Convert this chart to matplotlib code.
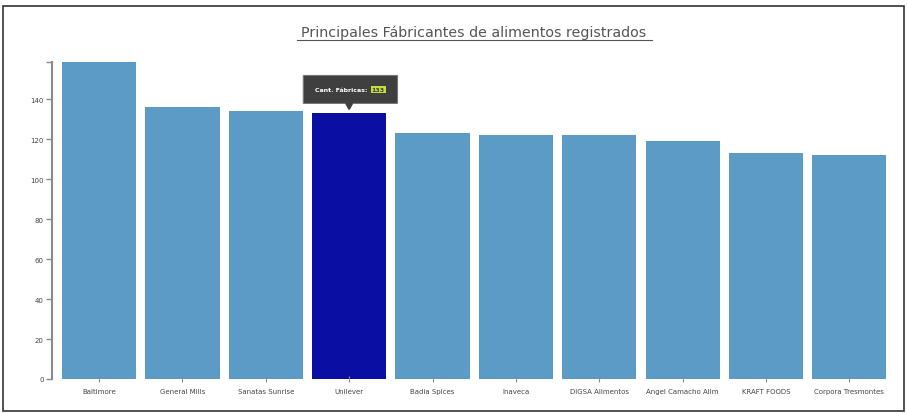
import matplotlib
matplotlib.use("Agg")
import matplotlib.pyplot as plt
from matplotlib.patches import Rectangle, FancyBboxPatch, Polygon

# ── Data ──────────────────────────────────────────────────────────
fabricantes = ['Baltimore', 'General Mills', 'Sanatas Sunrise', 'Unilever',
               'Badia Spices', 'Inaveca', 'DIGSA Alimentos',
               'Angel Camacho Alim', 'KRAFT FOODS', 'Corpora Tresmontes']
cant_fabricas = [159, 136, 134, 133, 123, 122, 122, 119, 113, 112]
highlight = 3          # bar under the mouse tooltip
y_ticks = [0, 20, 40, 60, 80, 100, 120, 140]

BAR_COLOR = '#5b9bc6'
HI_COLOR = '#0b0ea3'
AXIS_GRAY = '#8a8a8a'

fig = plt.figure(figsize=(9.07, 4.14), dpi=100)
fig.patch.set_facecolor('white')

# outer frame of the widget
fig.patches.append(Rectangle((0.003, 0.006), 0.994, 0.978, transform=fig.transFigure,
                             fill=False, edgecolor='#333333', lw=1.2))

ax = fig.add_axes([52/907, 34/414, 839/907, 317.5/414])
colors = [HI_COLOR if i == highlight else BAR_COLOR for i in range(len(fabricantes))]
x = list(range(len(fabricantes)))
ax.bar(x, cant_fabricas, width=0.89, color=colors)

ax.set_xlim(-0.565, 9.5)
ax.set_ylim(0, max(cant_fabricas))
ax.set_yticks(y_ticks)
ax.set_yticklabels([str(v) for v in y_ticks], fontsize=5, color='#444444')
ax.set_yticks([max(cant_fabricas)], minor=True)
ax.tick_params(axis='y', which='minor', length=4, color=AXIS_GRAY, width=1)
ax.tick_params(axis='y', length=4, color=AXIS_GRAY, width=1, pad=2)
ax.set_xticks(x)
ax.set_xticklabels(fabricantes, fontsize=5, color='#444444')
ax.tick_params(axis='x', length=5, color=AXIS_GRAY, width=0.8, pad=4, direction='inout')

for s in ['top', 'right', 'bottom']:
    ax.spines[s].set_visible(False)
ax.spines['left'].set_color(AXIS_GRAY)
ax.spines['left'].set_linewidth(1.5)

# title (underlined)
fig.text(474/907, 1 - 33/414, 'Principales Fábricantes de alimentos registrados',
         ha='center', va='center', fontsize=10.3, color='#555555')
fig.add_artist(plt.Line2D([297/907, 652/907], [1 - 41/414, 1 - 41/414],
                          transform=fig.transFigure, color='#555555', lw=0.8))

# tooltip over highlighted bar
tip_x, tip_top = highlight, cant_fabricas[highlight]
box = FancyBboxPatch((tip_x - 0.55, tip_top + 5), 1.13, 14,
                     boxstyle='round,pad=0,rounding_size=0.05',
                     facecolor='#3f3f3f', edgecolor='#777777', lw=0.8,
                     clip_on=False, zorder=5)
ax.add_patch(box)
ax.add_patch(Polygon([[tip_x - 0.04, tip_top + 5], [tip_x + 0.04, tip_top + 5],
                      [tip_x, tip_top + 2]], closed=True, color='#3f3f3f',
                     clip_on=False, zorder=5))
ax.text(tip_x + 0.22, tip_top + 12, 'Cant. Fábricas:', ha='right', va='center',
        fontsize=4.5, color='white', fontweight='bold', zorder=6, clip_on=False)
ax.text(tip_x + 0.35, tip_top + 12, str(cant_fabricas[highlight]), ha='center',
        va='center', fontsize=4.5, color='#3f3f3f', fontweight='bold', zorder=6,
        clip_on=False,
        bbox=dict(boxstyle='square,pad=0.15', facecolor='#c5dd3a', edgecolor='none'))

fig.savefig('out.png', dpi=100)
